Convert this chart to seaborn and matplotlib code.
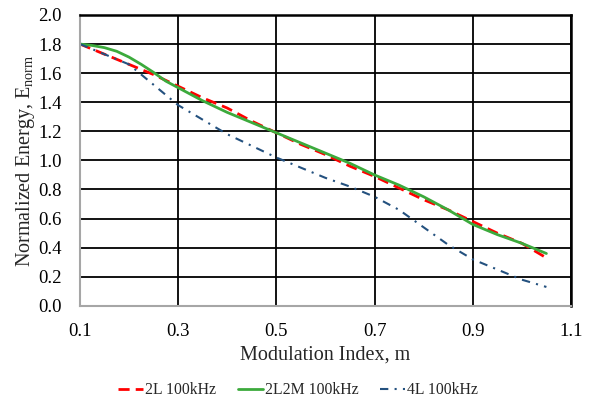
import matplotlib
matplotlib.use("Agg")
import matplotlib.pyplot as plt
import numpy as np
import pandas as pd
import seaborn as sns

# Modulation index samples
m_index = [0.10, 0.15, 0.20, 0.25, 0.30, 0.35, 0.40, 0.45, 0.50, 0.55,
           0.60, 0.65, 0.70, 0.75, 0.80, 0.85, 0.90, 0.95, 1.00, 1.05]
# The 2L2M curve bends sharply near m = 0.2, so it is sampled more finely there
m_index_2l2m = [0.100, 0.125, 0.150, 0.175, 0.200, 0.225, 0.250, 0.275,
                0.30, 0.35, 0.40, 0.45, 0.50, 0.55, 0.60, 0.65, 0.70,
                0.75, 0.80, 0.85, 0.90, 0.95, 1.00, 1.05]

# Normalized energy for each topology
e_2l = [1.80, 1.73, 1.66, 1.59, 1.51, 1.43, 1.36, 1.27, 1.19, 1.11,
        1.04, 0.96, 0.89, 0.81, 0.73, 0.66, 0.58, 0.50, 0.43, 0.33]
e_2l2m = [1.80, 1.79, 1.775, 1.75, 1.71, 1.66, 1.605, 1.545,
          1.50, 1.41, 1.33, 1.26, 1.19, 1.12, 1.05, 0.98, 0.90,
          0.83, 0.75, 0.66, 0.56, 0.49, 0.43, 0.36]
e_4l = [1.80, 1.73, 1.66, 1.52, 1.38, 1.28, 1.18, 1.10, 1.02, 0.95,
        0.88, 0.82, 0.75, 0.66, 0.54, 0.42, 0.32, 0.25, 0.18, 0.13]

series_names = ["2L 100kHz", "2L2M 100kHz", "4L 100kHz"]

x_ticks = [0.1, 0.3, 0.5, 0.7, 0.9, 1.1]
y_ticks = [0.0, 0.2, 0.4, 0.6, 0.8, 1.0, 1.2, 1.4, 1.6, 1.8, 2.0]

df = pd.concat([
    pd.DataFrame({"m": m_index, "E": e_2l, "series": series_names[0]}),
    pd.DataFrame({"m": m_index_2l2m, "E": e_2l2m, "series": series_names[1]}),
    pd.DataFrame({"m": m_index, "E": e_4l, "series": series_names[2]}),
], ignore_index=True)

sns.set_theme(style="white")
plt.rcParams["font.family"] = ["Liberation Serif", "DejaVu Serif"]
plt.rcParams["mathtext.fontset"] = "custom"
plt.rcParams["mathtext.rm"] = "Liberation Serif"

fig = plt.figure(figsize=(5.96, 4.03), dpi=100)
ax = fig.add_axes([0.134, 0.241, 0.824, 0.722])

palette = {series_names[0]: "#FF0000",
           series_names[1]: "#3CAA3C",
           series_names[2]: "#24517F"}
dashes = {series_names[0]: (4, 2.2),
          series_names[1]: "",
          series_names[2]: (4, 3, 1, 3)}

sns.lineplot(data=df, x="m", y="E", hue="series", style="series",
             palette=palette, dashes=dashes, ax=ax, legend=False,
             linewidth=2.0, sort=True)
# thinner dash-dot line for the 4L series
ax.lines[2].set_linewidth(1.5)

ax.set_xlim(0.1, 1.1)
ax.set_ylim(0.0, 2.0)
ax.set_xticks(x_ticks)
ax.set_xticklabels([f"{v:.1f}" for v in x_ticks])
ax.set_yticks(y_ticks)
ax.set_yticklabels([f"{v:.1f}" for v in y_ticks])
ax.tick_params(axis="both", length=0, labelsize=13.5, colors="black")
ax.tick_params(axis="x", pad=12)
ax.tick_params(axis="y", pad=13)

ax.grid(True, color="black", linewidth=1.3)
ax.set_axisbelow(True)
for side in ["top", "right"]:
    ax.spines[side].set_visible(True)
    ax.spines[side].set_color("black")
    ax.spines[side].set_linewidth(1.8)
for side in ["left", "bottom"]:
    ax.spines[side].set_color("#A6A6A6")
    ax.spines[side].set_linewidth(1.5)

ax.set_xlabel("Modulation Index, m", fontsize=14.5, labelpad=4)
ax.set_ylabel(r"Normalized Energy, E$_{\mathrm{norm}}$", fontsize=14.5, labelpad=1)

handles = [
    plt.Line2D([], [], color=palette[series_names[0]], linewidth=2.0, dashes=(4, 2.2)),
    plt.Line2D([], [], color=palette[series_names[1]], linewidth=2.0),
    plt.Line2D([], [], color=palette[series_names[2]], linewidth=1.5, dashes=(4, 3, 1, 3)),
]
fig.legend(handles, series_names, loc="center", bbox_to_anchor=(0.5, 0.032),
           ncol=3, frameon=False, fontsize=11.3, handlelength=1.6,
           handletextpad=0.1, columnspacing=1.4)

fig.savefig("out.png", dpi=100)
